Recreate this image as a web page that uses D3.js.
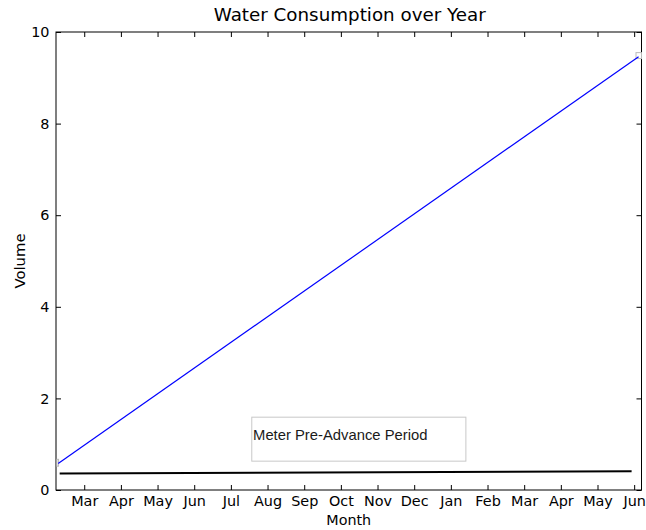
<!DOCTYPE html>
<html>
<head>
<meta charset="utf-8">
<script src="https://cdn.jsdelivr.net/npm/d3@7"></script>
<style>
  html, body { margin: 0; padding: 0; background: #fff; }
  svg { display: block; }
</style>
</head>
<body>
<script>
// ---- data ----
const monthLabels = ["Mar","Apr","May","Jun","Jul","Aug","Sep","Oct","Nov","Dec","Jan","Feb","Mar","Apr","May","Jun"];
const monthTicks = [0,1,2,3,4,5,6,7,8,9,10,11,12,13,14,15]; // month index, Mar = 0
const yTicks = [0, 2, 4, 6, 8, 10];
const totalX = [-0.71, 15.12];
const totalY = [0.58, 9.46];
const meterX = [-0.67, 14.93];
const meterY = [0.36, 0.41];
const annotationText = "Meter Pre-Advance Period";
const annotationBox = { x0: 4.57, x1: 10.41, y0: 0.63, y1: 1.59 };
const endBoxes = [
  { x0: -0.745, x1: -0.70, y0: 0.52, y1: 0.67 },
  { x0: 15.05, x1: 15.2, y0: 9.42, y1: 9.55 }
];

// ---- layout ----
const W = 646, H = 530;
const margin = { left: 56, top: 32, right: 4.5, bottom: 40 };
const iw = W - margin.left - margin.right;
const ih = H - margin.top - margin.bottom;
const FONT = "DejaVu Sans, sans-serif";

const svg = d3.select("body").append("svg").attr("width", W).attr("height", H);
const g = svg.append("g").attr("transform", `translate(${margin.left},${margin.top})`);

const x = d3.scaleLinear().domain([-0.77, 15.2]).range([0, iw]);
const y = d3.scaleLinear().domain([0, 10]).range([ih, 0]);

const tickLen = 5;
const fmtX = (d, i) => monthLabels[i];

const xb = g.append("g").attr("transform", `translate(0,${ih})`)
  .call(d3.axisBottom(x).tickValues(monthTicks).tickFormat(fmtX).tickSizeInner(-tickLen).tickSizeOuter(0).tickPadding(6.2));
const xt = g.append("g")
  .call(d3.axisTop(x).tickValues(monthTicks).tickFormat("").tickSizeInner(-tickLen).tickSizeOuter(0));
const yl = g.append("g")
  .call(d3.axisLeft(y).tickValues(yTicks).tickFormat(d3.format("d")).tickSizeInner(-tickLen).tickSizeOuter(0).tickPadding(6.5));
const yr = g.append("g").attr("transform", `translate(${iw},0)`)
  .call(d3.axisRight(y).tickValues(yTicks).tickFormat("").tickSizeInner(-tickLen).tickSizeOuter(0));

[xb, xt, yl, yr].forEach(a => {
  a.attr("font-family", FONT).attr("font-size", 14.4);
  a.select(".domain").remove();
  a.selectAll(".tick line").attr("stroke", "#000").attr("stroke-width", 1);
  a.selectAll(".tick text").attr("fill", "#000");
});

// frame
g.append("rect").attr("x", 0).attr("y", 0).attr("width", iw).attr("height", ih)
  .attr("fill", "none").attr("stroke", "#000").attr("stroke-width", 1);

// small empty boxes at line ends
g.selectAll(".endbox").data(endBoxes).join("rect").attr("class", "endbox")
  .attr("x", d => x(d.x0)).attr("y", d => y(d.y1))
  .attr("width", d => x(d.x1) - x(d.x0)).attr("height", d => y(d.y0) - y(d.y1))
  .attr("fill", "none").attr("stroke", "#bbb").attr("stroke-width", 1);

// lines
const line = d3.line().x(d => x(d[0])).y(d => y(d[1]));
g.append("path").datum(d3.zip(totalX, totalY)).attr("d", line)
  .attr("fill", "none").attr("stroke", "#0000ff").attr("stroke-width", 1.2);
g.append("path").datum(d3.zip(meterX, meterY)).attr("d", line)
  .attr("fill", "none").attr("stroke", "#000").attr("stroke-width", 2);

// annotation box
g.append("rect")
  .attr("x", x(annotationBox.x0)).attr("y", y(annotationBox.y1))
  .attr("width", x(annotationBox.x1) - x(annotationBox.x0))
  .attr("height", y(annotationBox.y0) - y(annotationBox.y1))
  .attr("fill", "#fff").attr("stroke", "#c8c8c8").attr("stroke-width", 1);
g.append("text")
  .attr("x", x(annotationBox.x0) + 1.3)
  .attr("y", y(annotationBox.y1) + 22.5)
  .attr("font-family", "Liberation Sans, Arial, sans-serif")
  .attr("font-size", 14.8).attr("fill", "#1a1a1a")
  .text(annotationText);

// titles
svg.append("text").attr("x", margin.left + iw / 2 + 1).attr("y", 21)
  .attr("text-anchor", "middle").attr("font-family", FONT).attr("font-size", 18.3).attr("fill", "#000")
  .text("Water Consumption over Year");
svg.append("text").attr("x", margin.left + iw / 2).attr("y", 525)
  .attr("text-anchor", "middle").attr("font-family", FONT).attr("font-size", 14.3).attr("fill", "#000")
  .text("Month");
svg.append("text").attr("transform", `translate(25,${margin.top + ih / 2}) rotate(-90)`)
  .attr("text-anchor", "middle").attr("font-family", FONT).attr("font-size", 14.8).attr("fill", "#000")
  .text("Volume");
</script>
</body>
</html>
